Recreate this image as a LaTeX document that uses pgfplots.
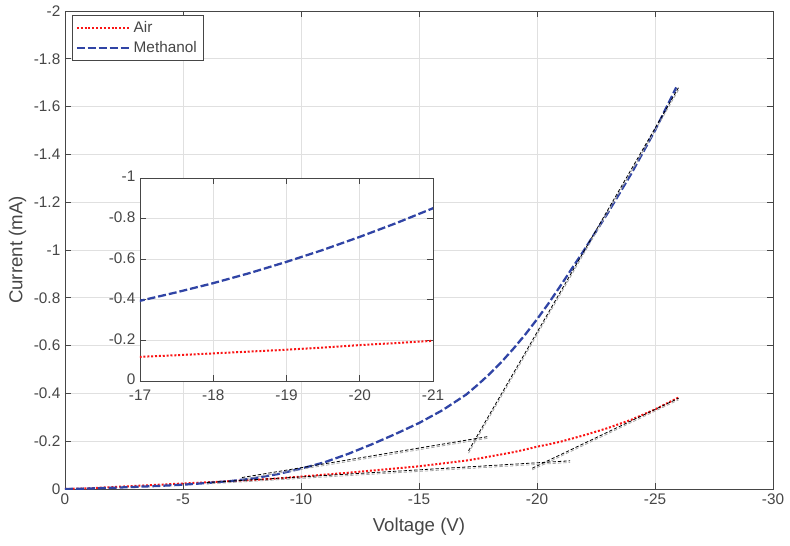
\documentclass[border=0pt]{standalone}
\usepackage{pgfplots}
\pgfplotsset{compat=1.18}
\usepackage{fontspec}
\setmainfont{Liberation Sans}
\definecolor{mblue}{RGB}{48,68,165}
\definecolor{mred}{RGB}{250,20,20}
\definecolor{axgray}{RGB}{70,70,70}
\pgfplotstableread{
V I
0 0
-1 -0.002
-2 -0.005
-3 -0.009
-4 -0.013
-5 -0.018
-6 -0.025
-7 -0.033
-8 -0.045
-9 -0.062
-10 -0.085
-11 -0.112
-12 -0.147
-13 -0.187
-14 -0.230
-15 -0.276
-16 -0.330
-17 -0.395
-17.5 -0.437
-18 -0.482
-18.5 -0.532
-19 -0.587
-19.5 -0.646
-20 -0.710
-20.5 -0.778
-21 -0.851
-22 -1.000
-23 -1.155
-24 -1.320
-25 -1.500
-25.9 -1.680
}\methanol
\pgfplotstableread{
V I
0 0
-1 -0.003
-2 -0.008
-3 -0.013
-4 -0.018
-5 -0.023
-6 -0.028
-7 -0.033
-8 -0.038
-9 -0.044
-10 -0.052
-11 -0.060
-12 -0.068
-13 -0.077
-14 -0.086
-15 -0.095
-16 -0.107
-17 -0.119
-17.5 -0.127
-18 -0.136
-18.5 -0.145
-19 -0.154
-19.5 -0.165
-20 -0.177
-20.5 -0.187
-21 -0.198
-22 -0.225
-23 -0.255
-24 -0.290
-25 -0.333
-26 -0.383
}\air
\pgfplotsset{
  mstyle/.style={
    scale only axis,
    x dir=reverse, y dir=reverse,
    grid=major,
    major grid style={black!12, line width=0.5pt},
    axis line style={axgray, line width=0.6pt},
    every tick/.style={axgray, line width=0.5pt},
    tick label style={font=\fontsize{11.5}{13}\selectfont, text=axgray},
    /pgf/number format/assume math mode=true,
    label style={font=\fontsize{14}{16}\selectfont, text=axgray},
  },
  airstyle/.style={mred, line width=1.5pt, dash pattern=on 1.5pt off 1.4pt},
  methstyle/.style={mblue, line width=1.7pt, dash pattern=on 6pt off 2.2pt},
  tanstyle/.style={black, line width=0.6pt, dash pattern=on 2.5pt off 1.5pt},
  tanshadow/.style={black!35, line width=0.6pt, dash pattern=on 2.5pt off 1.5pt},
}
\begin{document}
\begin{tikzpicture}
\useasboundingbox (-48.75pt,-42.75pt) rectangle (543.75pt,366.75pt);
\begin{axis}[mstyle,
  at={(0pt,0pt)}, anchor=south west,
  width=531pt, height=358.5pt,
  xmin=-30, xmax=0, ymin=-2, ymax=0,
  xtick={-30,-25,-20,-15,-10,-5,0},
  ytick={-2,-1.8,-1.6,-1.4,-1.2,-1,-0.8,-0.6,-0.4,-0.2,0},
  yticklabel style={/pgf/number format/.cd, fixed, precision=1},
  xlabel={Voltage (V)},
  ylabel={Current (mA)},
  xlabel style={at={(axis description cs:0.5,-0.0795)}, anchor=center},
  ylabel style={at={(axis description cs:-0.067,0.5)}, anchor=center},
  legend style={at={(axis description cs:0.01,0.992)}, anchor=north west,
    draw=axgray, fill=white, font=\fontsize{11.5}{13}\selectfont, text=axgray,
    inner sep=2.5pt, row sep=1.5pt},
  legend cell align=left,
  legend image code/.code={\draw[#1] (0cm,0cm) -- (1.4cm,0cm);},
]
\addplot[airstyle] table[x=V,y=I] {\air};
\addlegendentry{Air}
\addplot[methstyle] table[x=V,y=I] {\methanol};
\addlegendentry{Methanol}
% tangent lines
\addplot[tanshadow, forget plot] coordinates {(-17.1,-0.150) (-26,-1.670)};
\addplot[tanstyle, forget plot] coordinates {(-17.1,-0.160) (-26,-1.680)};
\addplot[tanshadow, forget plot] coordinates {(-7.5,-0.041) (-17.9,-0.212)};
\addplot[tanstyle, forget plot] coordinates {(-7.5,-0.048) (-17.9,-0.219)};
\addplot[tanshadow, forget plot] coordinates {(-19.8,-0.080) (-26,-0.373)};
\addplot[tanstyle, forget plot] coordinates {(-19.8,-0.087) (-26,-0.380)};
\addplot[tanshadow, forget plot] coordinates {(-6,-0.021) (-21.4,-0.111)};
\addplot[tanstyle, forget plot] coordinates {(-6,-0.027) (-21.4,-0.118)};
\end{axis}
\begin{axis}[mstyle,
  at={(56.25pt,81pt)}, anchor=south west,
  width=219.75pt, height=152.25pt,
  axis background/.style={fill=white},
  xmin=-21, xmax=-17, ymin=-1, ymax=0,
  xtick={-21,-20,-19,-18,-17},
  ytick={-1,-0.8,-0.6,-0.4,-0.2,0},
  yticklabel style={yshift=1pt, /pgf/number format/.cd, fixed, precision=1},
  xticklabel style={yshift=-3pt},
]
\addplot[airstyle] table[x=V,y=I] {\air};
\addplot[methstyle] table[x=V,y=I] {\methanol};
\end{axis}
\end{tikzpicture}
\end{document}
